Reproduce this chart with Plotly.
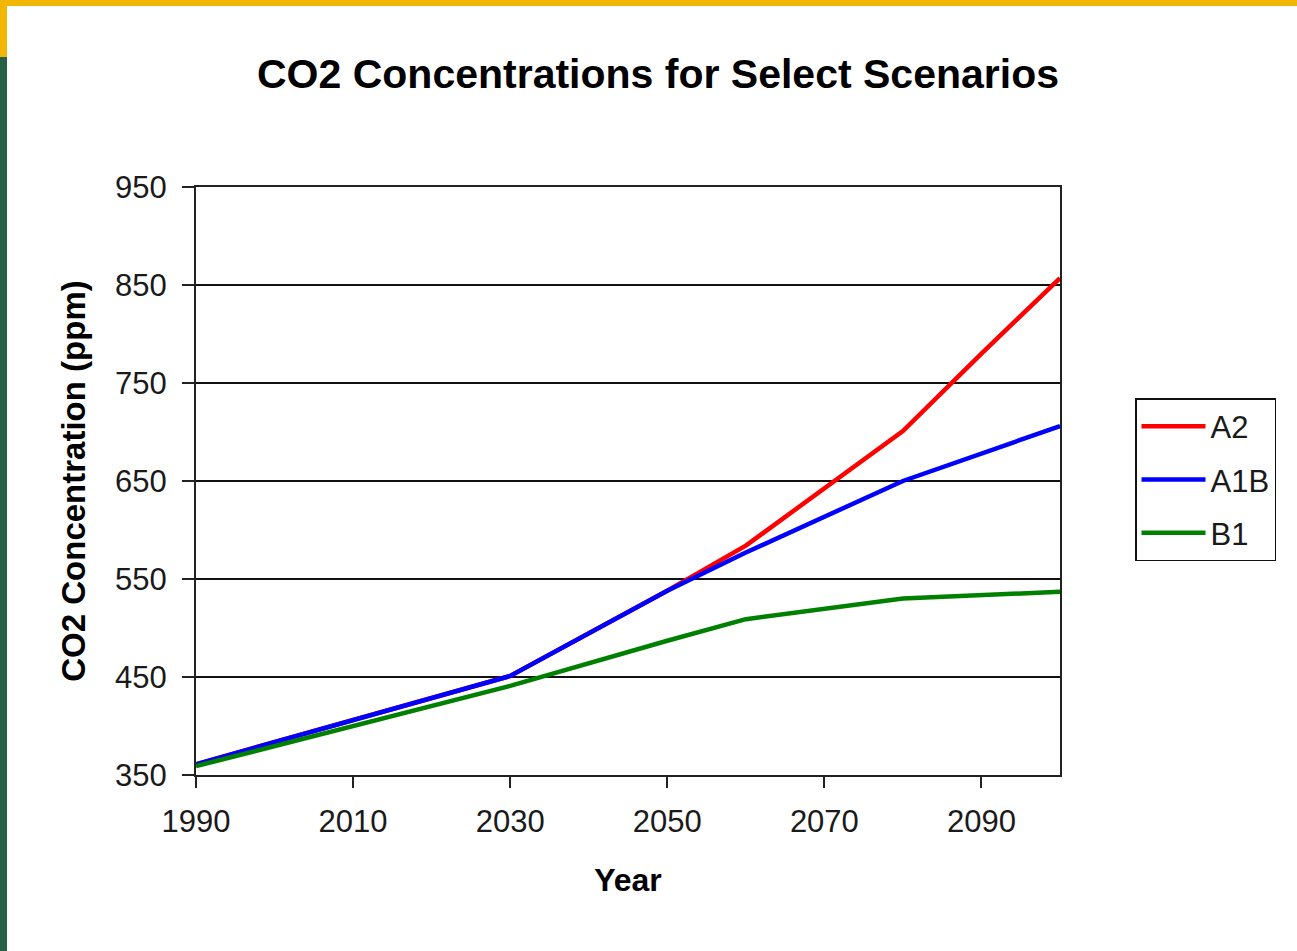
import plotly.graph_objects as go

# Scenario data (CO2 concentration, ppm)
years = [1990, 2030, 2050, 2060, 2080, 2090, 2100]
a2 = [361, 451, 538, 584, 701, 780, 857]
a1b = [361, 451, 538, 577, 650, 678, 706]
b1 = [359, 441, 487, 509, 530, 534, 537]

series_names = ["A2", "A1B", "B1"]
series_values = [a2, a1b, b1]
series_colors = ["#FF0000", "#0000FF", "#008000"]

x_ticks = [1990, 2010, 2030, 2050, 2070, 2090]
y_ticks = [350, 450, 550, 650, 750, 850, 950]

W, H = 1297, 951
ML, MR, MT, MB = 196, 237, 187, 176
PW, PH = W - ML - MR, H - MT - MB

FONT = "Liberation Sans, Arial, sans-serif"


def px_x(px):
    return (px - ML) / PW


def px_y(py):
    return (H - MB - py) / PH


fig = go.Figure()
for i, (name, vals, col) in enumerate(zip(series_names, series_values, series_colors)):
    fig.add_trace(go.Scatter(
        x=years, y=vals, name=name, mode="lines",
        line=dict(color=col, width=4.5),
        legendgroup=f"g{i}",
    ))

# slide frame: gold band on top, green band on the left
frame = [
    dict(x0=px_x(0), x1=px_x(W), y0=px_y(0), y1=px_y(6), color="#F2B705"),
    dict(x0=px_x(0), x1=px_x(7), y0=px_y(0), y1=px_y(57), color="#F2B705"),
    dict(x0=px_x(0), x1=px_x(7), y0=px_y(57), y1=px_y(H), color="#295F45"),
]
for f in frame:
    fig.add_shape(type="rect", xref="paper", yref="paper",
                  x0=f["x0"], x1=f["x1"], y0=f["y0"], y1=f["y1"],
                  fillcolor=f["color"], line=dict(width=0), layer="above")

fig.update_layout(
    width=W, height=H, autosize=False,
    margin=dict(l=ML, r=MR, t=MT, b=MB, pad=0),
    paper_bgcolor="white", plot_bgcolor="white",
    font=dict(family=FONT, size=31, color="#1a1a1a"),
    title=dict(
        text="<b>CO2 Concentrations for Select Scenarios</b>",
        font=dict(family=FONT, size=41, color="#000"),
        x=658 / W, xref="container", xanchor="center",
        y=1 - 74 / H, yref="container", yanchor="middle",
    ),
    xaxis=dict(
        range=[1990, 2100], tickvals=x_ticks, ticktext=[str(t) for t in x_ticks],
        ticks="outside", ticklen=11, tickwidth=2, tickcolor="#222",
        ticklabelstandoff=7,
        showline=True, linecolor="#222", linewidth=2, mirror=True,
        showgrid=False, zeroline=False,
        title=dict(text="<b>Year</b>", font=dict(family=FONT, size=32, color="#000"), standoff=30),
        tickfont=dict(family=FONT, size=31, color="#1a1a1a"),
    ),
    yaxis=dict(
        range=[350, 950], tickvals=y_ticks, ticktext=[str(t) for t in y_ticks],
        ticks="outside", ticklen=12, tickwidth=2, tickcolor="#222",
        ticklabelstandoff=9,
        showline=True, linecolor="#222", linewidth=2, mirror=True,
        showgrid=True, gridcolor="#111", gridwidth=1.5, zeroline=False,
        title=dict(text="<b>CO2 Concentration (ppm)</b>", font=dict(family=FONT, size=33, color="#000"), standoff=20),
        tickfont=dict(family=FONT, size=31, color="#1a1a1a"),
    ),
    legend=dict(
        x=px_x(1135), y=px_y(398), xanchor="left", yanchor="top",
        bgcolor="white", bordercolor="#111", borderwidth=1.5,
        font=dict(family=FONT, size=31, color="#1a1a1a"),
        tracegroupgap=10, itemwidth=64,
    ),
    showlegend=True,
)

fig.write_html("out.html")
